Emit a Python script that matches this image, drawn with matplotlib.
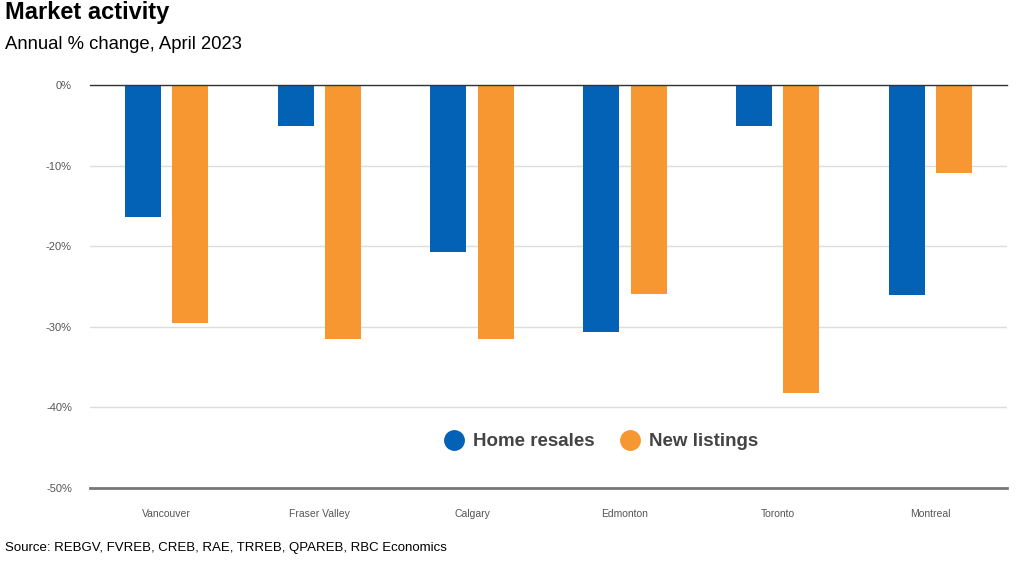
import matplotlib.pyplot as plt
from matplotlib.lines import Line2D
import numpy as np

plt.rcParams['font.family'] = ['Liberation Sans', 'DejaVu Sans']

cities = ['Vancouver', 'Fraser Valley', 'Calgary', 'Edmonton', 'Toronto', 'Montreal']
home_resales = [-16.4, -5.1, -20.7, -30.6, -5.1, -26.0]
new_listings = [-29.5, -31.5, -31.5, -25.9, -38.2, -10.9]
yticks = [0, -10, -20, -30, -40, -50]

blue = '#0361b6'
orange = '#f79731'

fig = plt.figure(figsize=(10.25, 5.61), dpi=100)
ax = fig.add_axes([0.0878, 0.1301, 0.8946, 0.7184])

x = np.arange(len(cities))
w = 0.235
off = 0.155
ax.bar(x - off, home_resales, w, color=blue, zorder=3)
ax.bar(x + off, new_listings, w, color=orange, zorder=3)

ax.set_xlim(-0.5, len(cities) - 0.5)
ax.set_ylim(-50, 0)
ax.set_yticks(yticks)
ax.set_yticklabels([f'{v}%' for v in yticks], color='#555555', fontsize=8)
ax.set_xticks(x)
ax.set_xticklabels(cities, color='#555555', fontsize=7.5)
ax.tick_params(length=0)
ax.tick_params(axis='y', pad=13)
ax.tick_params(axis='x', pad=15)

ax.grid(axis='y', color='#dddddd', linewidth=1, zorder=0)
for s in ['left', 'right']:
    ax.spines[s].set_visible(False)
ax.spines['top'].set_color('#333333')
ax.spines['top'].set_linewidth(1)
ax.spines['top'].set_zorder(4)
ax.spines['bottom'].set_color('#777777')
ax.spines['bottom'].set_linewidth(2)

handles = [Line2D([], [], marker='o', linestyle='', markersize=14, color=blue),
           Line2D([], [], marker='o', linestyle='', markersize=14, color=orange)]
leg = ax.legend(handles, ['Home resales', 'New listings'], loc='center',
                bbox_to_anchor=(0.553, 0.115), ncol=2, frameon=False,
                handletextpad=0.0, columnspacing=0.9,
                prop={'weight': 'bold', 'size': 13.5})
for t in leg.get_texts():
    t.set_color('#444444')

fig.text(0.005, 0.977, 'Market activity', fontsize=17, fontweight='bold', va='center')
fig.text(0.005, 0.920, 'Annual % change, April 2023', fontsize=13.3, va='center')
fig.text(0.005, 0.024, 'Source: REBGV, FVREB, CREB, RAE, TRREB, QPAREB, RBC Economics',
         fontsize=9.5, va='center')

fig.savefig('out.png', dpi=100)
